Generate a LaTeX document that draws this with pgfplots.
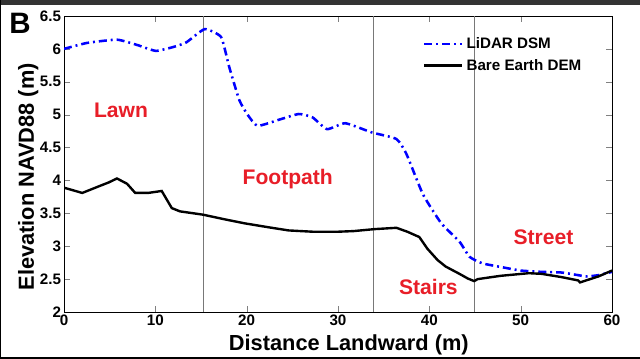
\documentclass[border=0pt]{standalone}
\usepackage{pgfplots}
\pgfplotsset{compat=1.18}
\usepackage{fontspec}
\setmainfont{Liberation Sans}
\definecolor{lblred}{RGB}{232,30,40}
\definecolor{vgray}{RGB}{120,120,120}
\begin{document}
\begin{tikzpicture}
\useasboundingbox (-1.6cm,-1.15cm) rectangle (14.4cm,7.8cm);
\fill[black!80] (-1.6cm,7.68cm) rectangle (14.4cm,7.8cm);
\draw[black, line width=0.8pt] (-1.6cm,-1.15cm) -- (-1.6cm,7.8cm);
\draw[black, line width=0.8pt] (-1.6cm,-1.15cm) -- (14.4cm,-1.15cm);
\begin{axis}[
  scale only axis,
  width=13.7cm, height=7.4cm,
  at={(0,0)}, anchor=south west,
  xmin=0, xmax=60, ymin=2, ymax=6.5,
  xtick={0,10,...,60},
  ytick={2,2.5,...,6.5},
  tick align=inside,
  major tick length=0.15cm,
  /pgf/number format/assume math mode=true,
  tick label style={font=\bfseries\fontsize{10.8}{12}\selectfont},
  yticklabel style={xshift=0.05cm},
  xticklabel style={yshift=0.05cm},
  xlabel={\bfseries\fontsize{15.5}{17}\selectfont Distance Landward (m)},
  ylabel={\bfseries\fontsize{15.5}{17}\selectfont Elevation NAVD88 (m)},
  xlabel style={yshift=0.02cm, xshift=0.27cm},
  ylabel style={yshift=-0.2cm, xshift=-0.32cm},
  axis line style={black, line width=0.6pt},
  legend style={draw=none, fill=none, at={(axis cs:39.3,6.22)}, anchor=north west,
    font=\bfseries\fontsize{10.8}{12}\selectfont, inner sep=0pt, row sep=2pt},
  legend cell align=left,
  legend image code/.code={\draw[#1] (0cm,0cm) -- (0.95cm,0cm);},
]
\addplot[vgray, line width=0.7pt, forget plot] coordinates {(15.3,2) (15.3,6.5)};
\addplot[vgray, line width=0.7pt, forget plot] coordinates {(33.9,2) (33.9,6.5)};
\addplot[vgray, line width=0.7pt, forget plot] coordinates {(44.9,2) (44.9,6.5)};
\addplot[blue, line width=1.8pt, dash pattern=on 5.7pt off 2.8pt on 1.4pt off 2.8pt, smooth, tension=0.3] coordinates {
(0,6.00) (2.5,6.09) (5.8,6.14) (8,6.06) (10.05,5.97) (12,6.03) (13.4,6.10) (15.4,6.30) (17.2,6.18) (18.1,5.72) (19.2,5.22) (20.1,5.00) (21.2,4.83) (23.7,4.93) (25.7,5.01) (27.2,4.96) (28.8,4.78) (30.8,4.87) (33.7,4.73) (36.4,4.63) (37.5,4.40) (39.3,3.79) (41.3,3.35) (43.3,3.07) (44.4,2.84) (45.8,2.74) (48,2.68) (50.0,2.63) (52.3,2.61) (54.5,2.60) (56.3,2.56) (57.2,2.54) (58.5,2.56) (60,2.61)
};
\addlegendentry{LiDAR DSM}
\addplot[black, line width=1.7pt] coordinates {
(0,3.89) (2.0,3.81) (3.8,3.91) (4.9,3.97) (5.8,4.03) (6.9,3.95) (7.8,3.81) (9.2,3.81) (10.7,3.84) (11.8,3.58) (12.7,3.53) (15.2,3.48) (17.9,3.40) (19.7,3.35) (22.3,3.29) (24.6,3.24) (27.3,3.22) (29.9,3.22) (31.7,3.23) (34.0,3.26) (36.4,3.28) (37.6,3.22) (38.9,3.14) (39.8,2.96) (40.9,2.79) (41.8,2.69) (43.3,2.58) (44.2,2.51) (44.9,2.47) (45.3,2.50) (47.8,2.55) (50.9,2.59) (52.3,2.58) (54.5,2.53) (56.3,2.48) (56.5,2.45) (58.5,2.54) (59.5,2.60) (60,2.63)
};
\addlegendentry{Bare Earth DEM}
\node[text=lblred, font=\bfseries\fontsize{15}{16}\selectfont] at (axis cs:6.24,5.07) {Lawn};
\node[text=lblred, font=\bfseries\fontsize{15}{16}\selectfont] at (axis cs:24.5,4.02) {Footpath};
\node[text=lblred, font=\bfseries\fontsize{15}{16}\selectfont] at (axis cs:39.9,2.38) {Stairs};
\node[text=lblred, font=\bfseries\fontsize{15}{16}\selectfont] at (axis cs:52.5,3.14) {Street};
\end{axis}
\node[font=\bfseries\fontsize{21}{23}\selectfont] at (-1.1cm,7.22cm) {B};
\end{tikzpicture}
\end{document}
